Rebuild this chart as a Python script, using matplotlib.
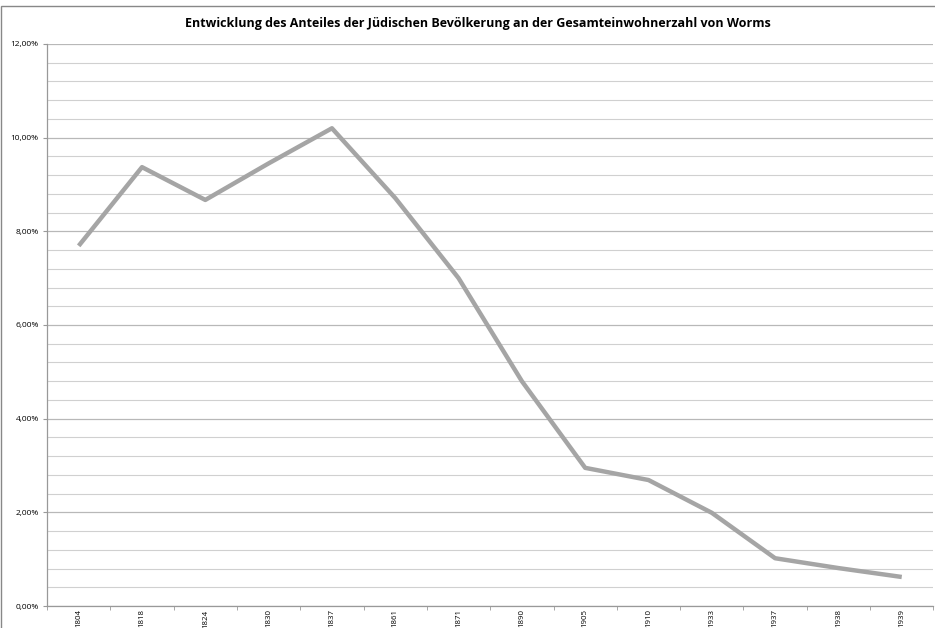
import numpy as np
import matplotlib.pyplot as plt
from matplotlib.ticker import FixedLocator, FuncFormatter, MultipleLocator

jahre = ["1804", "1818", "1824", "1830", "1837", "1861", "1871", "1890",
         "1905", "1910", "1933", "1937", "1938", "1939"]
anteil = [7.69, 9.37, 8.67, 9.45, 10.2, 8.71, 7.0, 4.8,
          2.95, 2.69, 1.99, 1.02, 0.81, 0.62]

titel = "Entwicklung des Anteiles der Jüdischen Bevölkerung an der Gesamteinwohnerzahl von Worms"

plt.rcParams['font.family'] = ['Open Sans', 'DejaVu Sans']

fig = plt.figure(figsize=(9.35, 6.28), dpi=100)
ax = fig.add_axes([0.0503, 0.035, 0.948, 0.895])

x = np.arange(len(jahre))
ax.plot(x, anteil, color='#a5a5a5', linewidth=3.2, solid_capstyle='butt', zorder=3)

ax.set_xlim(-0.5, len(jahre) - 0.5)
ax.set_ylim(0, 12)

# y-Achse: Hauptstriche alle 2 %, Gitter alle 0,4 %
ax.yaxis.set_major_locator(MultipleLocator(2))
ax.yaxis.set_minor_locator(MultipleLocator(0.4))
ax.yaxis.set_major_formatter(FuncFormatter(lambda v, p: f"{v:.2f}%".replace('.', ',')))
ax.grid(which='major', axis='y', color='#b8b8b8', linewidth=0.9)
ax.grid(which='minor', axis='y', color='#d0d0d0', linewidth=0.8)
ax.tick_params(axis='y', which='major', labelsize=6, length=3, color='#999999', pad=3)
ax.tick_params(axis='y', which='minor', length=0)

# x-Achse: Kategorien, Striche zwischen den Kategorien
ax.set_xticks(x)
ax.set_xticklabels(jahre, rotation=90, fontsize=5.7, va='top')
ax.xaxis.set_minor_locator(FixedLocator(np.arange(-0.5, len(jahre), 1)))
ax.tick_params(axis='x', which='major', length=0, pad=2.5)
ax.tick_params(axis='x', which='minor', length=3, color='#999999')

for s in ['top', 'right']:
    ax.spines[s].set_visible(False)
for s in ['left', 'bottom']:
    ax.spines[s].set_color('#999999')
    ax.spines[s].set_linewidth(0.9)

fig.text(0.511, 0.962, titel, ha='center', va='center', fontsize=9, fontweight='bold')

# Rahmen des Diagrammbereichs
fig.patches.append(plt.Rectangle((0.0015, -0.01), 1.1, 1.0, transform=fig.transFigure,
                                 fill=False, edgecolor='#888888', linewidth=1))

fig.savefig('out.png', dpi=100)
